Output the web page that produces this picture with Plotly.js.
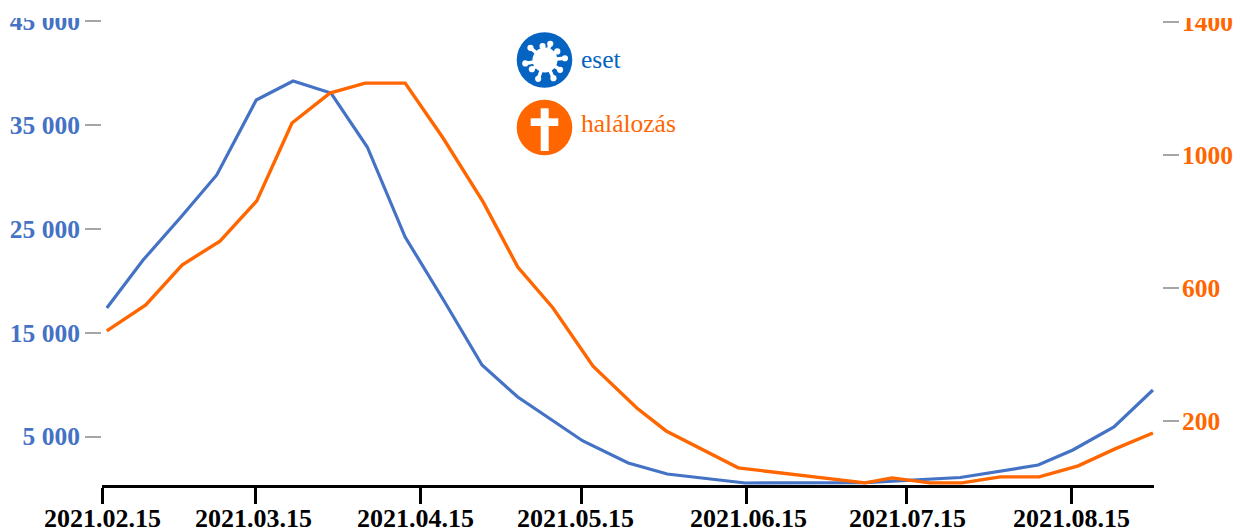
<!DOCTYPE html>
<html>
<head>
<meta charset="utf-8">
<script src="https://cdn.plot.ly/plotly-3.0.1.min.js"></script>
<style>html,body{margin:0;padding:0;background:#fff;overflow:hidden}#chart{width:1233px;height:532px}</style>
</head>
<body>
<div id="chart"></div>
<script>
// Days since 2021.02.15
const caseDays = [0.9,7.7,14.8,21.5,28.9,35.8,42.9,49.7,56.8,64.1,71.2,77.9,90.1,98.6,105.9,120.5,143,148,160.8,175.4,181.9,189.6,196.9];
const caseValues = [17380,22000,26150,30200,37420,39250,38090,32890,24220,18050,11890,8800,4570,2450,1390,520,550,710,1050,2250,3700,5915,9480];
const deathDays = [0.9,8.2,15,22.1,29,35.6,42.7,49.3,56.8,63.9,71.4,77.9,84.5,92,100.2,105.7,119.2,143,148,155.1,161.1,168.3,175.6,182.9,189.8,196.9];
const deathValues = [471,549,669,741,862,1096,1186,1216,1216,1051,859,663,540,365,239,170,59,14,29,14,14,32,32,65,116,164];
const dateTickDays = [0,28.7,59.6,89.8,120.7,150.7,181.6];
const dateLabelDays = [0,28.4,58.7,88.8,121.1,151,181.7];
const dateTickLabels = ["2021.02.15","2021.03.15","2021.04.15","2021.05.15","2021.06.15","2021.07.15","2021.08.15"];
const caseTicks = [5000,15000,25000,35000,45000];
const caseTickLabels = ["5 000","15 000","25 000","35 000","45 000"];
const deathTicks = [200,600,1000,1400];
const deathTickLabels = ["200","600","1000","1400"];
const caseLabel = "eset";
const deathLabel = "halálozás";

const BLUE="#4472C4", ORANGE="#FF6600", ICONBLUE="#0563C1", GREY="#A6A6A6", SERIF="Liberation Serif";
const L=102,T=18,W=1060,H=467;
const px=x=>(x-L)/W, py=y=>(T+H-y)/H;
const base={xref:"paper",yref:"paper",layer:"above"};
const circle=(cx,cy,r,c)=>({...base,type:"circle",x0:px(cx-r),x1:px(cx+r),y0:py(cy+r),y1:py(cy-r),fillcolor:c,line:{width:0}});
const rect=(x0,y0,x1,y1,c)=>({...base,type:"rect",x0:px(x0),x1:px(x1),y0:py(y1),y1:py(y0),fillcolor:c,line:{width:0}});
const stroke=(x0,y0,x1,y1,c,w)=>({...base,type:"line",x0:px(x0),x1:px(x1),y0:py(y0),y1:py(y1),line:{color:c,width:w}});

const shapes=[
  rect(0,0,1233,T,"#fff"),
  circle(544.5,60,27.8,ICONBLUE),
  circle(544.5,127.5,27.8,ORANGE),
  rect(540.7,108.3,548.7,151,"#fff"),
  rect(530.7,118.3,558.3,126,"#fff"),
  circle(545,60,12.5,"#fff")
];
// Virus spikes: [angle in degrees, length]
[[5,20],[35,15],[72,17],[100,14],[140,19],[190,20],[215,16],[250,20],[295,20],[327,18]].forEach(([a,l])=>{
  const r=a*Math.PI/180, ex=545+l*Math.cos(r), ey=60-l*Math.sin(r);
  shapes.push(stroke(545,60,ex,ey,"#fff",3.5));
  shapes.push(circle(ex,ey,3.1,"#fff"));
});

const data=[
  {x:caseDays,y:caseValues,name:caseLabel,type:"scatter",mode:"lines",line:{color:BLUE,width:3.2},yaxis:"y",hoverinfo:"skip"},
  {x:deathDays,y:deathValues,name:deathLabel,type:"scatter",mode:"lines",line:{color:ORANGE,width:3.4},yaxis:"y2",hoverinfo:"skip"}
];
const dateAnnotations=dateTickLabels.map((t,i)=>({xref:"x",yref:"paper",x:dateLabelDays[i],y:py(518.5),xanchor:"center",yanchor:"middle",
  text:t,showarrow:false,font:{family:SERIF,size:26,color:"#000",weight:700}}));
const layout={
  width:1233,height:532,showlegend:false,paper_bgcolor:"#fff",plot_bgcolor:"#fff",
  margin:{l:L,r:1233-L-W,t:T,b:532-T-H,pad:0},
  font:{family:SERIF},
  xaxis:{type:"linear",domain:[0,1052/1060],range:[0,197.1],tickmode:"array",tickvals:dateTickDays,ticktext:dateTickLabels,showticklabels:false,
    showgrid:false,zeroline:false,showline:true,linecolor:"#000",linewidth:3,ticks:"outside",ticklen:16,tickwidth:3,tickcolor:"#000"},
  yaxis:{range:[328,45318],tickmode:"array",tickvals:caseTicks,ticktext:caseTickLabels,showgrid:false,zeroline:false,showline:false,
    ticks:"outside",ticklen:16,tickwidth:2,tickcolor:GREY,tickfont:{family:SERIF,size:25.5,color:BLUE,weight:700},ticklabelstandoff:0},
  yaxis2:{overlaying:"y",side:"right",anchor:"free",position:1,range:[7.5,1411.8],tickmode:"array",tickvals:deathTicks,ticktext:deathTickLabels,
    showgrid:false,zeroline:false,showline:false,ticks:"outside",ticklen:16,tickwidth:2,tickcolor:GREY,tickfont:{family:SERIF,size:25.5,color:ORANGE,weight:700},ticklabelstandoff:-2},
  shapes:shapes,
  annotations:dateAnnotations.concat([
    {xref:"paper",yref:"paper",x:px(579),y:py(59),xanchor:"left",yanchor:"middle",text:caseLabel,showarrow:false,font:{family:SERIF,size:25.5,color:ICONBLUE}},
    {xref:"paper",yref:"paper",x:px(579),y:py(123.5),xanchor:"left",yanchor:"middle",text:deathLabel,showarrow:false,font:{family:SERIF,size:25.5,color:ORANGE}}
  ])
};
Plotly.newPlot("chart",data,layout,{displayModeBar:false,staticPlot:true});
</script>
</body>
</html>
